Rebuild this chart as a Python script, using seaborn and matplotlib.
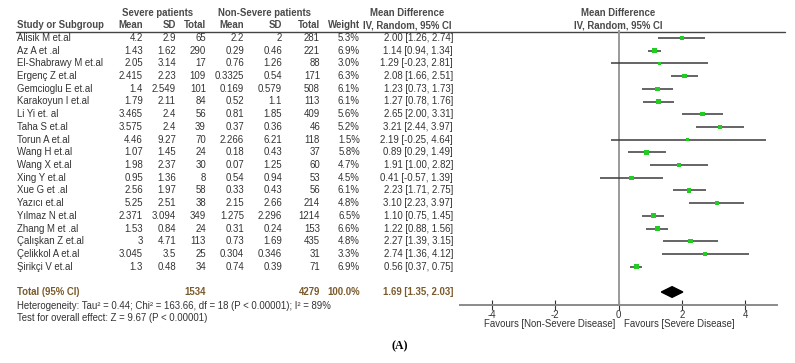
import matplotlib
matplotlib.use('Agg')
import matplotlib.pyplot as plt
import seaborn as sns
import numpy as np
import pandas as pd

studies = ["Alisik M et.al", "Az A et .al", "El-Shabrawy M et.al", "Ergenç Z et.al",
           "Gemcioglu E et.al", "Karakoyun I et.al", "Li Yi et. al", "Taha S et.al",
           "Torun A et.al", "Wang H et.al", "Wang X et.al", "Xing Y et.al",
           "Xue G et .al", "Yazıcı et.al", "Yılmaz N et.al", "Zhang M et .al",
           "Çalışkan Z et.al", "Çelikkol A et.al", "Şirikçi V et.al"]
sev_mean = [4.2, 1.43, 2.05, 2.415, 1.4, 1.79, 3.465, 3.575, 4.46, 1.07, 1.98, 0.95,
            2.56, 5.25, 2.371, 1.53, 3, 3.045, 1.3]
sev_sd = [2.9, 1.62, 3.14, 2.23, 2.549, 2.11, 2.4, 2.4, 9.27, 1.45, 2.37, 1.36,
          1.97, 2.51, 3.094, 0.84, 4.71, 3.5, 0.48]
sev_n = [65, 290, 17, 109, 101, 84, 56, 39, 70, 24, 30, 8, 58, 38, 349, 24, 113, 25, 34]
non_mean = [2.2, 0.29, 0.76, 0.3325, 0.169, 0.52, 0.81, 0.37, 2.266, 0.18, 0.07, 0.54,
            0.33, 2.15, 1.275, 0.31, 0.73, 0.304, 0.74]
non_sd = [2, 0.46, 1.26, 0.54, 0.579, 1.1, 1.85, 0.36, 6.21, 0.43, 1.25, 0.94,
          0.43, 2.66, 2.296, 0.24, 1.69, 0.346, 0.39]
non_n = [281, 221, 88, 171, 508, 113, 409, 46, 118, 37, 60, 53, 56, 214, 1214, 153, 435, 31, 71]
weight = [5.3, 6.9, 3.0, 6.3, 6.1, 6.1, 5.6, 5.2, 1.5, 5.8, 4.7, 4.5, 6.1, 4.8, 6.5, 6.6,
          4.8, 3.3, 6.9]
md = [2.00, 1.14, 1.29, 2.08, 1.23, 1.27, 2.65, 3.21, 2.19, 0.89, 1.91, 0.41, 2.23, 3.10,
      1.10, 1.22, 2.27, 2.74, 0.56]
ci_lo = [1.26, 0.94, -0.23, 1.66, 0.73, 0.78, 2.00, 2.44, -0.25, 0.29, 1.00, -0.57, 1.71,
         2.23, 0.75, 0.88, 1.39, 1.36, 0.37]
ci_hi = [2.74, 1.34, 2.81, 2.51, 1.73, 1.76, 3.31, 3.97, 4.64, 1.49, 2.82, 1.39, 2.75,
         3.97, 1.45, 1.56, 3.15, 4.12, 0.75]

total_sev, total_non = 1534, 4279
pooled_md, pooled_lo, pooled_hi = 1.69, 1.35, 2.03
het_text = "Heterogeneity: Tau² = 0.44; Chi² = 163.66, df = 18 (P < 0.00001); I² = 89%"
z_text = "Test for overall effect: Z = 9.67 (P < 0.00001)"
xticks = [-4, -2, 0, 2, 4]

df = pd.DataFrame({"study": studies, "md": md, "lo": ci_lo, "hi": ci_hi, "w": weight})
df["row"] = np.arange(len(df))

sns.set_theme(style="white")
plt.rcParams['font.family'] = ['Liberation Sans', 'DejaVu Sans']

W, H = 795, 363
fig = plt.figure(figsize=(W / 100, H / 100), dpi=100)
bg = fig.add_axes([0, 0, 1, 1])
bg.set_xlim(0, W)
bg.set_ylim(H, 0)
bg.axis('off')

fs = 6.9
txt = '#333333'
hdr = '#4a4a4a'
tot = '#7a5a2a'

# headers
bg.text(158, 13, "Severe patients", ha='center', va='center', fontsize=fs, fontweight='bold', color=hdr)
bg.text(264, 13, "Non-Severe patients", ha='center', va='center', fontsize=fs, fontweight='bold', color=hdr)
bg.text(407, 13, "Mean Difference", ha='center', va='center', fontsize=fs, fontweight='bold', color=hdr)
bg.text(618, 13, "Mean Difference", ha='center', va='center', fontsize=fs, fontweight='bold', color=hdr)
bg.text(17, 25, "Study or Subgroup", ha='left', va='center', fontsize=fs, fontweight='bold', color=hdr)
col_x = [143, 176, 206, 244, 282, 320, 360]
col_names = ["Mean", "SD", "Total", "Mean", "SD", "Total", "Weight"]
for cx, cn in zip(col_x, col_names):
    bg.text(cx, 25, cn, ha='right', va='center', fontsize=fs, fontweight='bold', color=hdr)
bg.text(407, 25, "IV, Random, 95% CI", ha='center', va='center', fontsize=fs, fontweight='bold', color=hdr)
bg.text(618, 25, "IV, Random, 95% CI", ha='center', va='center', fontsize=fs, fontweight='bold', color=hdr)
bg.plot([16, 785], [31.5, 31.5], color='#444444', lw=1)

y0, dy = 38, 12.7
for i in range(len(studies)):
    y = y0 + dy * i
    vals = [f"{sev_mean[i]:g}", f"{sev_sd[i]:g}", str(sev_n[i]), f"{non_mean[i]:g}",
            f"{non_sd[i]:g}", str(non_n[i]), f"{weight[i]:.1f}%"]
    bg.text(17, y, studies[i], ha='left', va='center', fontsize=fs, color=txt)
    for cx, v in zip(col_x, vals):
        bg.text(cx, y, v, ha='right', va='center', fontsize=fs, color=txt)
    bg.text(453, y, f"{md[i]:.2f} [{ci_lo[i]:.2f}, {ci_hi[i]:.2f}]", ha='right', va='center',
            fontsize=fs, color=txt)

yt = 292
bg.text(17, yt, "Total (95% CI)", ha='left', va='center', fontsize=fs, fontweight='bold', color=tot)
bg.text(206, yt, str(total_sev), ha='right', va='center', fontsize=fs, fontweight='bold', color=tot)
bg.text(320, yt, str(total_non), ha='right', va='center', fontsize=fs, fontweight='bold', color=tot)
bg.text(360, yt, "100.0%", ha='right', va='center', fontsize=fs, fontweight='bold', color=tot)
bg.text(453, yt, f"{pooled_md:.2f} [{pooled_lo:.2f}, {pooled_hi:.2f}]", ha='right', va='center',
        fontsize=fs, fontweight='bold', color=tot)
bg.text(17, 306, het_text, ha='left', va='center', fontsize=fs, color=txt)
bg.text(17, 318, z_text, ha='left', va='center', fontsize=fs, color=txt)
bg.text(400, 346, "(A)", ha='center', va='center', fontsize=8.5, fontweight='bold',
        family=['Liberation Serif', 'DejaVu Serif'], color='black')

# forest panel: x -5..5 over pixels 460..777, rows over pixels via y0/dy
px_l, px_r = 460, 777
r_top, r_bot = -0.63, 21.0
py_top, py_bot = y0 + dy * r_top, y0 + dy * r_bot
ax = fig.add_axes([px_l / W, 1 - py_bot / H, (px_r - px_l) / W, (py_bot - py_top) / H])
ax.patch.set_alpha(0)
ax.set_xlim(-5, 5)
ax.set_ylim(r_bot, r_top)

ax.axvline(0, color='#9a9a9a', lw=1.4, zorder=1)
ax.hlines(df["row"], df["lo"], df["hi"], color='#3a3a3a', lw=1.1, zorder=2)
sns.scatterplot(data=df, x="md", y="row", size="w", sizes=(5, 12), marker='s',
                color='#22cc22', edgecolor='none', legend=False, ax=ax, zorder=3)
tr = 20
ax.fill([pooled_lo, pooled_md, pooled_hi, pooled_md], [tr, tr - 0.42, tr, tr + 0.42],
        color='black', zorder=3)

for s in ['left', 'right', 'top']:
    ax.spines[s].set_visible(False)
ax.spines['bottom'].set_color('#8a8a8a')
ax.spines['bottom'].set_linewidth(1.4)
ax.set_yticks([])
ax.set_xticks(xticks)
ax.set_xticklabels([str(t) for t in xticks])
ax.tick_params(axis='x', direction='inout', length=7, width=0.8, color='#333333',
               labelsize=fs, labelcolor=txt, pad=0, bottom=True)
ax.set_xlabel("")
ax.set_ylabel("")

bg.text(615, 324, "Favours [Non-Severe Disease]", ha='right', va='center', fontsize=fs, color=txt)
bg.text(624, 324, "Favours [Severe Disease]", ha='left', va='center', fontsize=fs, color=txt)

fig.savefig("out.png", dpi=100)
